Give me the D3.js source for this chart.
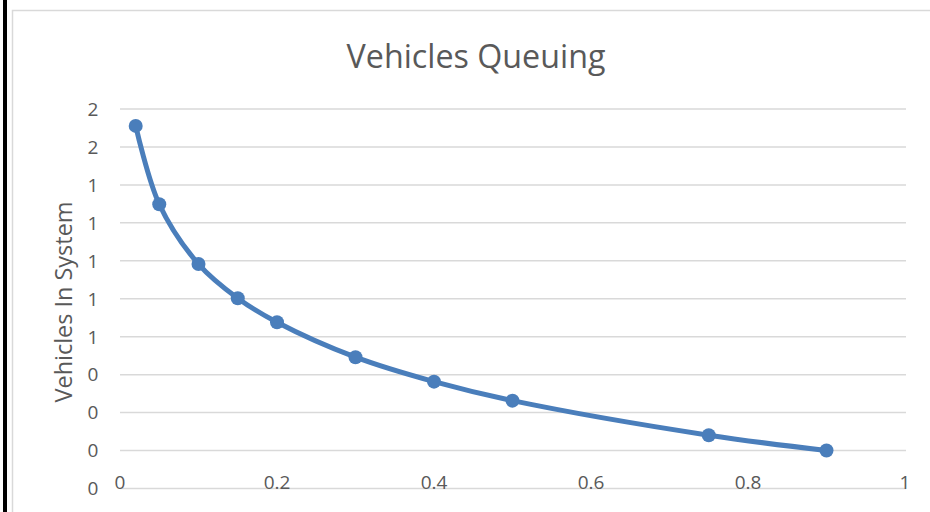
<!DOCTYPE html>
<html>
<head>
<meta charset="utf-8">
<script src="https://cdn.jsdelivr.net/npm/d3@7"></script>
<style>
  html, body { margin: 0; padding: 0; background: #fff; }
  svg { display: block; }
</style>
</head>
<body>
<div id="chart"></div>
<script>
// ---- Data ----
const xValues = [0.02, 0.05, 0.1, 0.15, 0.2, 0.3, 0.4, 0.5, 0.75, 0.9];
const yValues = [1.711, 1.298, 0.983, 0.803, 0.676, 0.492, 0.363, 0.263, 0.081, 0.0];
const xTicks = [0, 0.2, 0.4, 0.6, 0.8, 1];
const xTickLabels = ["0", "0.2", "0.4", "0.6", "0.8", "1"];
const yTicks = [-0.2, 0, 0.2, 0.4, 0.6, 0.8, 1.0, 1.2, 1.4, 1.6, 1.8];
const yTickLabels = ["0", "0", "0", "0", "1", "1", "1", "1", "1", "2", "2"];
const titleText = "Vehicles Queuing";
const yAxisTitle = "Vehicles In System";

// ---- Layout ----
const W = 930, H = 512;
const svg = d3.select("#chart").append("svg").attr("width", W).attr("height", H);
const FONT = "'Open Sans', 'Liberation Sans', sans-serif";
const TEXT = "#595959";
const GRID = "#d9d9d9";
const BLUE = "#4a7ebb";

// outer frame
svg.append("rect").attr("x", 3).attr("y", 0).attr("width", 4).attr("height", H).attr("fill", "#000");
svg.append("rect").attr("x", 12.5).attr("y", 10.5).attr("width", W + 20).attr("height", H + 20)
  .attr("fill", "none").attr("stroke", GRID).attr("stroke-width", 1.5);

const x = d3.scaleLinear().domain([0, 1]).range([120, 905]);
const y = d3.scaleLinear().domain([-0.2, 1.8]).range([488.5, 109]);

// gridlines
svg.append("g").selectAll("line").data(yTicks).join("line")
  .attr("x1", x(0)).attr("x2", x(1) + 1)
  .attr("y1", d => y(d)).attr("y2", d => y(d))
  .attr("stroke", GRID).attr("stroke-width", 1.5);

// y tick labels
svg.append("g").selectAll("text").data(yTicks).join("text")
  .attr("x", 93).attr("y", d => y(d))
  .attr("dy", "0.36em")
  .attr("text-anchor", "middle")
  .attr("font-family", FONT).attr("font-size", 19).attr("fill", TEXT)
  .text((d, i) => yTickLabels[i]);

// x tick labels
svg.append("g").selectAll("text").data(xTicks).join("text")
  .attr("x", d => x(d)).attr("y", 488.5)
  .attr("text-anchor", "middle")
  .attr("font-family", FONT).attr("font-size", 19).attr("fill", TEXT)
  .text((d, i) => xTickLabels[i]);

function fit(sel, target) {
  const w = sel.node().getComputedTextLength();
  const fs = parseFloat(sel.attr("font-size"));
  sel.attr("font-size", (fs * target / w).toFixed(2));
}

// title
const t = svg.append("text")
  .attr("x", 476).attr("y", 68)
  .attr("text-anchor", "middle")
  .attr("font-family", FONT).attr("font-size", 28).attr("fill", TEXT)
  .text(titleText);
fit(t, 259);

// y axis title
const yt = svg.append("text")
  .attr("transform", "translate(72,302) rotate(-90)")
  .attr("text-anchor", "middle")
  .attr("font-family", FONT).attr("font-size", 20).attr("fill", TEXT)
  .text(yAxisTitle);
fit(yt, 201);

// series
const pts = xValues.map((v, i) => [v, yValues[i]]);
const line = d3.line().x(d => x(d[0])).y(d => y(d[1])).curve(d3.curveCatmullRom.alpha(0.5));
svg.append("path").attr("d", line(pts))
  .attr("fill", "none").attr("stroke", BLUE).attr("stroke-width", 5)
  .attr("stroke-linejoin", "round").attr("stroke-linecap", "round");
svg.append("g").selectAll("circle").data(pts).join("circle")
  .attr("cx", d => x(d[0])).attr("cy", d => y(d[1])).attr("r", 7)
  .attr("fill", BLUE);
</script>
</body>
</html>
